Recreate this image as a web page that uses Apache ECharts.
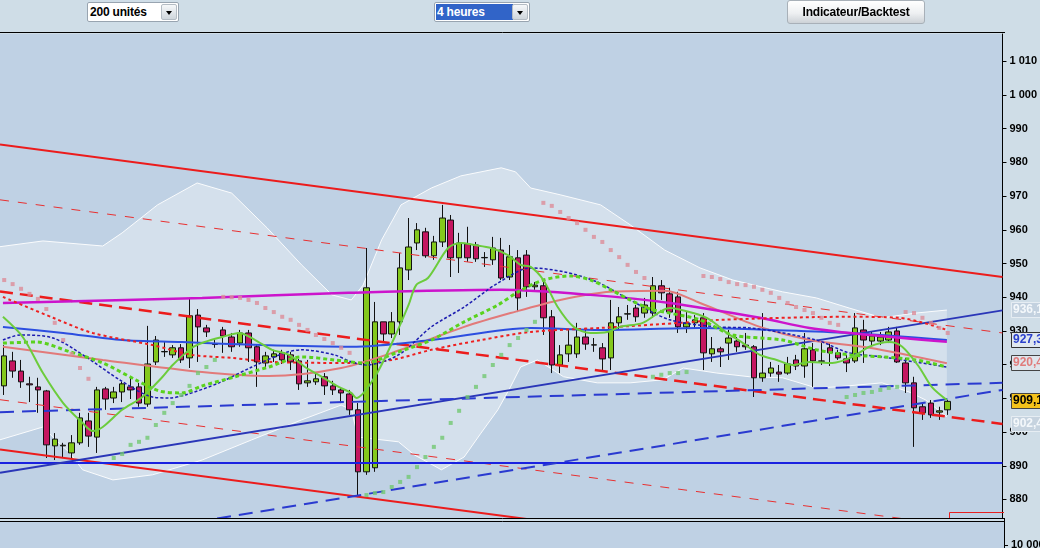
<!DOCTYPE html>
<html><head><meta charset="utf-8">
<script src="https://cdn.jsdelivr.net/npm/echarts@6/dist/echarts.min.js"></script>
<style>
html,body{margin:0;padding:0;width:1040px;height:548px;overflow:hidden;background:#cfdde7;}
#chart{position:absolute;left:0;top:0;width:1040px;height:548px;}
.f{font-family:'Liberation Sans','Arial',sans-serif;font-weight:bold;font-size:12px;}
.sel{position:absolute;top:2px;height:20px;background:#fff;border:1px solid #98a4b0;border-radius:2px;box-sizing:border-box;z-index:5;}
.sel .t{position:absolute;left:2px;top:1px;height:16px;line-height:16px;color:#000;white-space:nowrap;letter-spacing:-0.2px;}
.ab{position:absolute;right:1px;top:1px;width:16px;height:16px;background:linear-gradient(#f6f8fa,#cfd6dc);border:1px solid #b4bcc4;border-radius:2px;box-sizing:border-box;}
.tri{position:absolute;left:4px;top:6px;width:0;height:0;border-left:3px solid transparent;border-right:3px solid transparent;border-top:4px solid #000;}
.btn{position:absolute;left:787px;top:0px;width:138px;height:24px;border:1px solid #a8b0b8;border-radius:3px;box-sizing:border-box;background:linear-gradient(#ffffff,#eef0f2 55%,#cdd2d7);text-align:center;line-height:22px;color:#000;z-index:5;letter-spacing:-0.2px;}
</style></head>
<body>
<div id="chart"></div>
<div class="sel f" style="left:87px;width:92px;"><span class="t">200 unités</span><span class="ab"><span class="tri"></span></span></div>
<div class="sel f" style="left:434px;width:96px;"><span class="t" style="left:1px;width:76px;background:#3164c8;color:#fff;padding-left:1px;">4 heures</span><span class="ab"><span class="tri"></span></span></div>
<div class="btn f">Indicateur/Backtest</div>
<script>
// ---------- DATA ----------
const categories = [];
for (let i = 0; i < 119; i++) categories.push(String(i));

const opens  = [913.7,921.1,918.1,914.3,913.4,912.2,895.9,895.9,893.8,896.8,903.3,898.5,912.8,910.1,911.9,913.4,913.4,908.3,920.8,923.8,922.9,925.0,922.0,934.7,930.9,926.1,930.3,928.2,926.4,929.4,925.3,920.5,922.3,923.5,922.9,921.1,914.6,914.9,916.4,913.7,912.5,911.3,906.6,888.2,889.4,932.7,929.1,932.7,948.1,956.1,959.4,952.3,956.4,962.9,951.7,955.8,955.5,951.7,951.1,954.0,946.0,951.7,952.5,943.1,943.4,934.2,919.9,923.2,923.2,928.2,925.8,925.0,922.0,932.4,935.0,936.8,935.3,935.3,943.4,941.0,940.1,931.2,932.4,933.9,923.2,924.7,926.4,927.0,925.8,925.3,916.1,917.5,917.8,917.5,921.4,919.6,924.4,921.1,925.0,923.5,921.7,921.1,930.3,927.0,927.0,927.3,930.0,920.5,914.6,907.5,908.6,905.9,906.6];
const closes = [922.6,918.1,914.9,914.0,912.5,896.2,897.9,896.1,896.8,904.2,898.8,912.5,909.8,911.9,914.3,912.5,908.6,920.2,927.3,923.9,925.0,921.4,934.5,931.2,929.7,926.0,928.5,925.3,929.4,925.0,920.8,922.6,923.2,921.4,920.8,914.3,915.2,915.8,913.7,912.5,911.6,906.6,888.2,942.8,932.7,929.1,932.7,948.7,954.9,960.0,952.3,956.4,963.5,951.7,956.1,951.7,951.4,951.8,954.6,945.7,952.0,939.8,943.1,943.6,933.9,919.9,922.9,925.8,928.2,926.1,925.9,921.7,932.4,934.2,935.1,934.2,937.7,943.4,941.3,935.6,931.2,932.4,933.3,923.5,924.7,923.8,927.9,925.3,925.3,916.1,917.5,919.0,917.2,920.2,919.6,924.7,921.1,921.0,923.5,922.0,920.5,930.9,927.3,928.5,928.2,929.7,920.8,914.6,907.2,905.7,905.1,906.3,909.1];
const lows   = [911.0,916.1,913.1,908.9,905.7,892.3,891.7,892.6,892.3,896.2,895.6,893.8,906.6,908.6,908.9,909.8,907.5,907.5,919.9,922.3,922.0,920.5,919.0,920.8,928.2,925.0,923.5,923.8,925.3,920.8,913.4,919.0,920.8,920.2,918.4,912.5,913.4,914.0,911.0,911.0,908.6,905.1,880.7,887.3,888.2,926.7,927.9,928.8,945.1,954.0,951.7,951.1,954.9,946.0,947.2,950.5,950.5,949.0,949.6,945.1,945.1,935.6,940.1,942.2,928.8,917.5,917.5,920.8,922.0,924.4,923.8,918.4,918.4,930.3,933.3,932.7,933.9,933.9,939.2,933.9,929.4,929.4,930.9,918.4,920.8,919.3,921.4,923.8,924.4,910.4,914.9,916.4,914.9,917.0,918.4,916.1,913.4,919.9,919.6,921.4,917.8,920.5,920.5,925.8,925.8,926.4,920.5,911.6,895.6,903.6,904.2,903.6,905.1];
const highs  = [925.8,923.8,921.4,916.4,916.1,912.5,899.7,896.8,899.1,905.7,905.7,913.4,913.4,913.4,914.9,916.4,914.6,931.5,928.5,926.7,925.8,926.1,939.8,936.5,931.8,927.3,931.2,929.4,930.3,930.3,925.8,923.8,924.4,924.4,923.8,921.7,921.4,917.8,917.5,915.2,913.1,912.5,908.6,954.6,938.6,932.7,935.6,953.1,963.5,962.0,960.6,958.2,967.4,964.4,959.1,960.9,956.4,953.4,957.9,957.6,955.5,954.0,954.0,944.5,944.5,936.2,925.8,930.3,932.4,930.9,927.9,926.4,939.2,937.1,937.7,937.7,939.8,946.0,945.1,942.8,941.6,935.6,934.7,935.3,928.2,925.3,930.3,928.2,929.4,925.8,935.3,920.8,919.9,922.3,922.9,929.4,926.4,926.4,926.4,924.4,922.9,935.3,933.3,929.7,929.7,931.2,931.2,922.0,916.4,908.6,909.5,907.5,909.5];

// y-axis tick labels
const yTicks = [880,890,900,910,920,930,940,950,960,970,980,990,1000,1010];

// straight drawn lines [x index, value]
const redUpper       = [[-0.5,985.3],[118.5,946.0]];
const redLower       = [[-0.5,894.8],[118.5,855.6]];
const redThinDashUp  = [[-0.5,968.9],[118.5,929.4]];
const redThickDash   = [[-0.5,941.7],[118.5,902.4]];
const redThinDashLow = [[-0.5,909.6],[118.5,870.4]];
const blueHoriz      = [[-0.5,890.8],[118.5,890.8]];
const blueRising     = [[-0.5,887.9],[118.5,936.1]];
const blueDashFlat   = [[-0.5,905.9],[118.5,914.6]];
const blueDashRising = [[-0.5,863.8],[118.5,912.5]];

// indicator curves [x index, value]
const maMagenta = [[-0.15,938.3],[23.5,939.8],[40.9,941.3],[59.0,942.2],[69.6,940.7],[79.0,938.3],[89.7,933.9],[95.6,930.9],[102.7,928.8],[111.9,926.8]];
const maBlue = [[-0.15,931.2],[7.0,929.4],[14.0,927.3],[21.1,926.7],[30.6,925.8],[41.2,925.3],[50.7,927.3],[62.5,930.9],[70.8,930.3],[82.6,930.9],[90.9,930.3],[100.3,929.4],[111.9,927.3]];
const maSalmon = [[-0.15,925.3],[11.7,921.4],[23.5,917.8],[31.4,916.6],[40.0,919.0],[47.1,924.4],[54.6,931.2],[60.1,935.3],[66.0,939.2],[72.0,941.6],[78.4,941.9],[82.6,938.3],[89.7,931.2],[95.6,927.3],[102.7,925.0],[111.9,920.4]];
const maRedDot = [[-0.15,940.1],[5.8,933.9],[10.5,929.4],[17.6,925.8],[22.3,922.9],[27.0,922.0],[31.8,920.8],[41.2,920.5],[46.0,921.4],[50.7,924.4],[56.6,927.3],[62.5,929.7],[70.8,930.9],[80.2,932.4],[85.0,933.3],[100.3,934.2],[106.2,933.9],[111.9,930.3]];
const maGreen = [[-0.15,934.2],[2.2,928.2],[4.6,917.5],[7.0,908.6],[9.3,902.7],[10.5,900.3],[11.7,901.5],[14.0,906.6],[16.4,910.4],[18.8,916.4],[20.0,919.9],[22.3,925.0],[23.8,926.7],[25.9,928.2],[27.9,929.4],[29.8,927.3],[31.8,924.4],[33.8,922.9],[35.7,919.3],[37.7,916.4],[39.7,913.4],[41.2,911.6],[41.8,910.1],[44.0,916.4],[46.3,927.9],[48.0,937.7],[48.9,943.6],[50.3,945.7],[52.7,954.6],[54.2,956.1],[55.8,955.5],[57.8,954.6],[59.8,952.5],[61.3,949.6],[62.5,949.0],[64.0,945.1],[65.7,937.1],[67.6,931.2],[69.6,929.4],[71.6,929.7],[73.1,931.2],[75.8,932.4],[79.0,936.8],[81.8,935.3],[83.8,933.3],[85.8,929.4],[87.7,926.4],[89.7,922.9],[91.7,921.4],[93.6,919.9],[95.6,920.8],[98.3,920.5],[100.7,922.3],[102.7,925.3],[105.0,926.7],[106.6,925.3],[108.6,919.3],[110.1,913.4],[111.9,909.5]];
const maGreenDot = [[-0.15,926.4],[3.8,926.7],[7.8,923.8],[11.7,920.5],[15.6,915.5],[18.4,912.2],[21.1,911.6],[23.5,913.7],[27.4,916.4],[31.4,919.3],[35.3,922.3],[39.2,921.4],[42.8,920.5],[46.8,923.8],[50.7,927.3],[54.6,932.7],[58.6,937.7],[61.0,941.6],[64.0,945.1],[67.2,946.3],[69.6,945.1],[72.0,942.2],[74.3,939.2],[76.7,936.5],[79.0,935.3],[82.6,933.3],[86.5,928.8],[92.4,927.3],[96.4,924.4],[100.3,922.9],[104.2,922.3],[108.2,921.4],[111.9,919.3]];
const maBlueDot = [[-0.15,927.3],[1.9,928.8],[5.8,927.9],[9.7,922.3],[13.7,915.5],[17.6,910.4],[19.6,910.1],[21.5,911.0],[25.5,914.6],[29.4,919.3],[33.3,923.5],[35.3,924.4],[39.2,922.9],[41.2,920.8],[43.0,919.9],[46.8,922.9],[50.7,931.2],[54.6,937.1],[58.6,944.2],[62.5,948.7],[66.5,947.5],[70.4,944.5],[74.3,939.2],[79.0,933.3],[84.6,931.2],[88.5,930.9],[96.4,927.3],[100.3,923.5],[104.2,922.3],[111.9,919.3]];
const bbUpper = [[-0.5,955.0],[4.6,956.7],[11.7,955.2],[14.0,959.1],[18.2,967.4],[22.9,973.9],[27.0,970.9],[31.2,960.6],[35.3,949.6],[38.9,940.7],[41.2,939.2],[42.6,943.6],[44.8,957.0],[47.1,967.4],[50.7,972.4],[54.2,976.0],[59.0,978.4],[60.7,977.2],[62.5,972.4],[66.0,970.4],[70.8,967.4],[74.3,961.5],[78.4,954.0],[82.6,948.7],[86.5,945.1],[92.4,941.6],[96.4,939.8],[100.3,936.8],[104.2,933.9],[108.2,935.3],[111.9,936.2]];
const bbLower = [[-0.5,897.7],[4.6,901.5],[6.1,897.7],[7.8,893.8],[9.3,888.8],[12.9,885.8],[17.6,887.3],[23.5,891.7],[29.4,897.7],[35.3,903.6],[40.0,908.0],[41.2,906.6],[42.0,898.5],[46.8,897.1],[48.7,893.2],[51.9,888.8],[54.6,892.6],[56.6,899.7],[58.6,906.6],[60.1,913.4],[61.3,919.3],[63.3,921.4],[66.4,916.4],[70.4,914.6],[74.3,914.6],[78.2,915.5],[80.6,919.0],[84.6,917.5],[88.5,916.4],[92.4,916.1],[96.4,913.1],[98.8,913.4],[104.2,914.6],[107.4,911.9],[109.4,909.5],[111.9,904.5]];
const sarAbove = [[0,945.1],[1,943.9],[2,942.5],[3,941.0],[4,939.5],[5,936.5],[6,932.4],[7,927.3],[8,923.2],[9,919.0],[10,915.8],
  [26,940.1],[27,940.0],[28,939.8],[29,939.2],[30,938.3],[31,936.8],[32,935.6],[33,934.2],[34,933.3],[35,931.8],[36,930.3],[37,928.8],[38,927.6],[39,926.4],[40,925.0],[41,923.5],
  [64,968.0],[65,967.1],[66,965.3],[67,963.5],[68,962.0],[69,960.0],[70,957.9],[71,956.4],[72,954.0],[73,951.9],[74,949.6],[75,947.5],[76,945.7],
  [83,946.3],[84,946.0],[85,945.4],[86,944.5],[87,943.9],[88,943.6],[89,943.1],[90,942.2],[91,941.3],[92,939.8],[93,938.3],[94,937.1],[95,936.2],[96,935.3],[97,933.9],[98,932.4],[99,931.8],
  [107,935.6],[108,935.3],[109,933.9],[110,932.4],[111,930.9],[112,929.4]];
const sarBelow = [[13,892.3],[14,893.5],[15,896.2],[16,897.1],[17,898.3],[18,902.1],[19,905.7],[20,908.6],[21,911.0],[22,913.7],[23,917.5],[24,919.3],[25,921.4],
  [43,881.3],[44,881.9],[45,882.2],[46,883.7],[47,885.2],[48,886.7],[49,889.6],[50,892.6],[51,895.6],[52,898.3],[53,902.7],[54,906.3],[55,910.4],[56,913.4],[57,916.6],[58,919.9],[59,922.9],[60,925.8],[61,927.9],[62,930.3],[63,932.7],
  [77,916.4],[78,917.0],[79,917.5],[80,917.5],[81,917.8],
  [100,910.4],[101,911.0],[102,911.6],[103,911.9],[104,912.5],[105,913.1],[106,913.4]];
const lastValues = [936.1, 927.3, 920.4, 909.1, 902.4];

// ---------- CHART ----------
const PLOT_BG = '#bfd1e4', BAND_BG = '#d4e0ec';
const FONT = "'Liberation Sans',Arial,sans-serif";
const ohlc = opens.map((o, i) => [o, closes[i], lows[i], highs[i]]);
function fmt(v){ v = Math.round(v); return v >= 1000 ? Math.floor(v/1000) + ' ' + String(v % 1000).padStart(3,'0') : String(v); }
function ln(data, color, width, type, z, smooth){
  return {type:'line', xAxisIndex:1, yAxisIndex:0, data, symbol:'none', smooth: smooth || false, silent:true, clip:true,
          lineStyle:{color, width, type: type || 'solid', cap:'butt'}, z: z || 4};
}
const chart = echarts.init(document.getElementById('chart'), null, {renderer:'canvas'});
const option = {
  animation:false,
  backgroundColor:'transparent',
  grid:{left:-3, right:36, top:34, bottom:30, show:true, backgroundColor:PLOT_BG, borderWidth:0},
  xAxis:[
    {type:'category', data:categories, show:false, boundaryGap:true, axisLine:{onZero:false}},
    {type:'value', min:-0.5, max:118.5, show:false, position:'top', axisLine:{onZero:false}}
  ],
  yAxis:{type:'value', position:'right', min:874.5, max:1018.1, scale:true,
    splitLine:{show:false},
    axisLine:{show:true, onZero:false, lineStyle:{color:'#000', width:1}},
    axisTick:{show:true, length:4, inside:false, customValues:yTicks, lineStyle:{color:'#000'}},
    axisLabel:{customValues:yTicks, formatter:fmt, color:'#000', fontWeight:'bold', fontSize:11, fontFamily:FONT, margin:7}
  },
  series:[
    {type:'custom', xAxisIndex:1, yAxisIndex:0, z:1, silent:true, clip:true, data:[[0,900]],
      renderItem:(params, api) => {
        const pts = bbUpper.map(p => api.coord(p)).concat(bbLower.slice().reverse().map(p => api.coord(p)));
        return {type:'polygon', shape:{points:pts}, style:{fill:BAND_BG}};
      }},
    ln(bbUpper, 'rgba(255,255,255,0.9)', 1, 'solid', 2),
    ln(bbLower, 'rgba(255,255,255,0.9)', 1, 'solid', 2),
    {type:'candlestick', xAxisIndex:0, yAxisIndex:0, data:ohlc, barWidth:6, z:3, silent:true,
      itemStyle:{color:'#84c81c', color0:'#c41660', borderColor:'#111', borderColor0:'#111', borderWidth:1}},
    ln(redUpper, '#ec1c1c', 2, 'solid', 5),
    ln(redLower, '#ec1c1c', 2, 'solid', 5),
    ln(redThinDashUp, '#e83030', 1, [9,9], 5),
    ln(redThickDash, '#ec1c1c', 2.5, [13,7], 5),
    ln(redThinDashLow, '#e83030', 1, [9,9], 5),
    ln(blueHoriz, '#1a22e0', 2, 'solid', 5),
    ln(blueRising, '#2a36b8', 2, 'solid', 5),
    ln(blueDashFlat, '#2a3ad0', 2, [14,8], 5),
    ln(blueDashRising, '#2a3ad0', 2, [14,8], 5),
    ln(maSalmon, '#e27a7a', 2, 'solid', 6, 0.3),
    ln(maBlue, '#2c4ee0', 2, 'solid', 6, 0.3),
    ln(maMagenta, '#cc14cc', 2.5, 'solid', 6, 0.3),
    ln(maRedDot, '#ee2020', 2, [3,3], 6, 0.3),
    ln(maBlueDot, '#1c1cb0', 1.5, [3,2], 6, 0.3),
    ln(maGreenDot, '#5ad21e', 3, [4,3], 6, 0.3),
    ln(maGreen, '#6ccc3c', 2, 'solid', 7, 0.3),
    {type:'scatter', xAxisIndex:1, yAxisIndex:0, data:sarAbove, symbol:'rect', symbolSize:4, silent:true, z:7,
      itemStyle:{color:'#dc8c98'}},
    {type:'scatter', xAxisIndex:1, yAxisIndex:0, data:sarBelow, symbol:'rect', symbolSize:4, silent:true, z:7,
      itemStyle:{color:'#72c872'}}
  ],
  graphic:[
    {type:'line', shape:{x1:0, y1:32.5, x2:1005, y2:32.5}, style:{stroke:'#000', lineWidth:1}, z:100},
    {type:'line', shape:{x1:0, y1:518.5, x2:1005, y2:518.5}, style:{stroke:'#000', lineWidth:1}, z:100},
    {type:'rect', shape:{x:0, y:521, width:1004, height:27}, style:{fill:PLOT_BG}, z:99},
    {type:'line', shape:{x1:0, y1:521.5, x2:1005, y2:521.5}, style:{stroke:'#000', lineWidth:1}, z:100},
    {type:'line', shape:{x1:1004.5, y1:518, x2:1004.5, y2:548}, style:{stroke:'#000', lineWidth:1}, z:100},
    {type:'line', shape:{x1:1004, y1:545.5, x2:1008, y2:545.5}, style:{stroke:'#000', lineWidth:1}, z:100},
    {type:'text', x:1011, y:545, style:{text:'10 000', fill:'#000', font:'bold 11px ' + FONT, textVerticalAlign:'middle'}, z:100},
    {type:'polyline', shape:{points:[[949.5,518],[949.5,512.5],[1004,512.5]]}, style:{stroke:'#e82020', lineWidth:1, fill:null}, z:100}
  ]
};
chart.setOption(option);

// value boxes on the right axis, placed through the y scale
const boxStyles = [
  {fill:'#c3d1df', stroke:'#e6edf3', text:'#f4f8fb'},
  {fill:'#dfe7ef', stroke:'#333', text:'#2a40cc'},
  {fill:'#dfe5ec', stroke:'#444', text:'#e07c7c'},
  {fill:'#f4c21a', stroke:'#444', text:'#000'},
  {fill:'#c6d3df', stroke:'#e6edf3', text:'#f4f8fb'}
];
const boxes = [];
lastValues.forEach((v, k) => {
  const y = chart.convertToPixel({yAxisIndex:0}, v);
  const s = boxStyles[k];
  boxes.push({type:'rect', shape:{x:1011.5, y:Math.round(y) - 7.5, width:30, height:15}, style:{fill:s.fill, stroke:s.stroke, lineWidth:1}, z:110});
  boxes.push({type:'text', x:1013, y:Math.round(y), style:{text:v.toFixed(1).replace('.', ','), fill:s.text, font:'bold 12px ' + FONT, textVerticalAlign:'middle'}, z:111});
});
chart.setOption({graphic: option.graphic.concat(boxes)}, {replaceMerge:['graphic']});
</script>
</body></html>
